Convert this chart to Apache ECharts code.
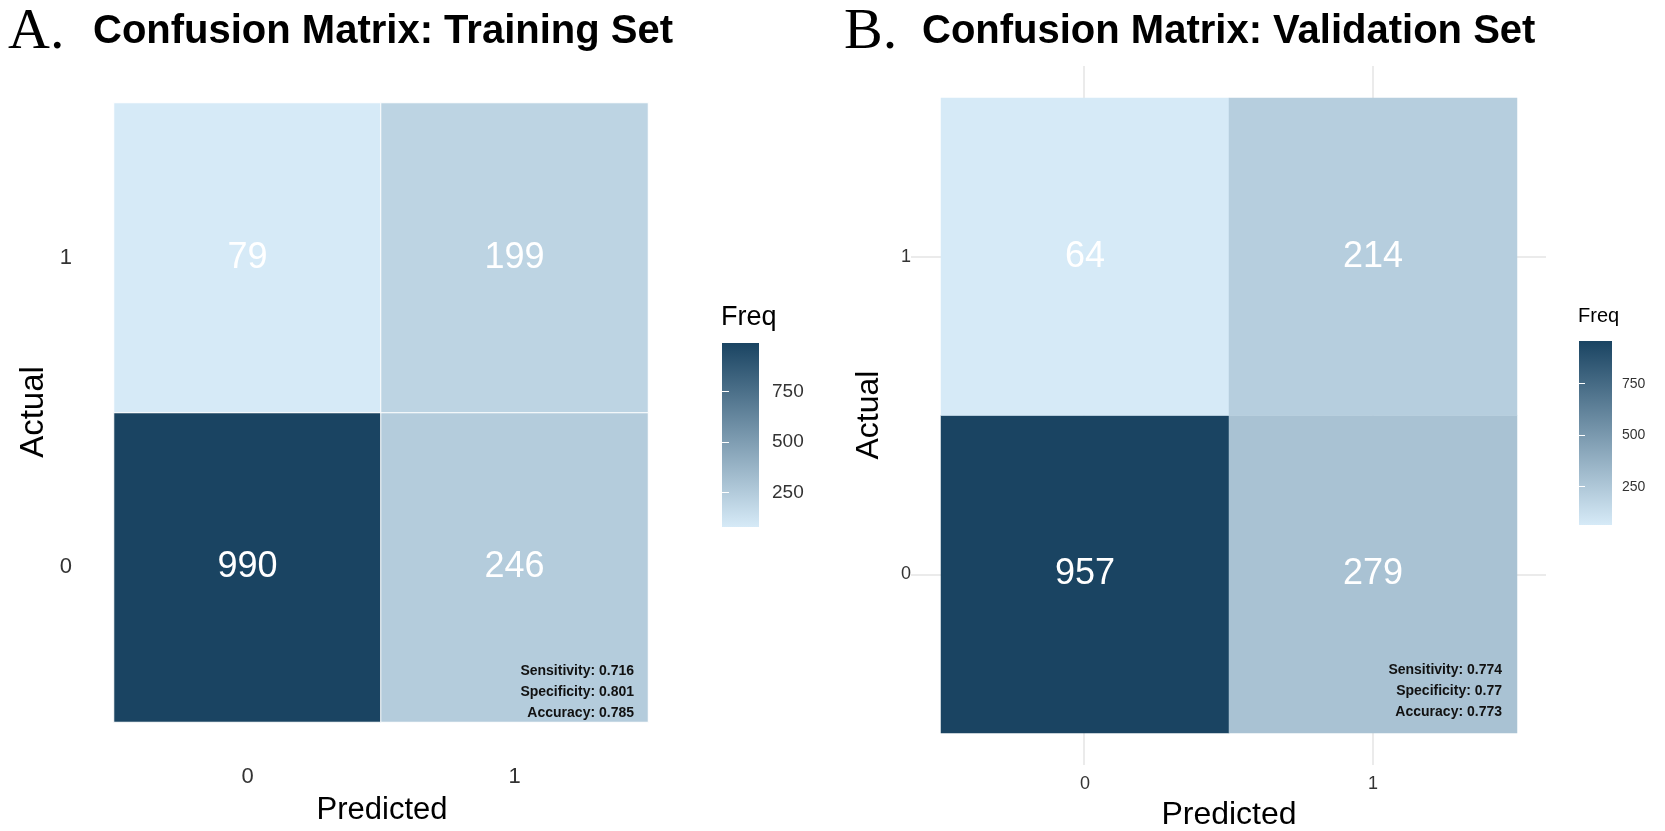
<!DOCTYPE html>
<html>
<head>
<meta charset="utf-8">
<script src="https://cdn.jsdelivr.net/npm/echarts@6/dist/echarts.min.js"></script>
<style>
html,body{margin:0;padding:0;background:#fff;}
#chart{width:1665px;height:831px;}
</style>
</head>
<body>
<div id="chart"></div>
<script>
// ---- data ----
const predictedLabels = ['0', '1'];
const actualLabels = ['0', '1'];
// rows: actual 0, actual 1 ; columns: predicted 0, predicted 1
const trainMatrix = [[990, 246], [79, 199]];
const validMatrix = [[957, 279], [64, 214]];
const trainMetrics = ['Sensitivity: 0.716', 'Specificity: 0.801', 'Accuracy: 0.785'];
const validMetrics = ['Sensitivity: 0.774', 'Specificity: 0.77', 'Accuracy: 0.773'];
const legendTicks = [250, 500, 750];
const titleA = 'Confusion Matrix: Training Set';
const titleB = 'Confusion Matrix: Validation Set';

// ---- helpers ----
const FONT = '"Liberation Sans", Arial, Helvetica, sans-serif';
const LOW = '#d6eaf7';
const HIGH = '#1a4462';

function toCells(m) {
  const out = [];
  for (let r = 0; r < m.length; r++)
    for (let c = 0; c < m[r].length; c++) out.push([c, r, m[r][c]]);
  return out;
}
function flat(m) { return [].concat.apply([], m); }
const trainCells = toCells(trainMatrix);
const validCells = toCells(validMatrix);
const tMin = Math.min.apply(null, flat(trainMatrix)), tMax = Math.max.apply(null, flat(trainMatrix));
const vMin = Math.min.apply(null, flat(validMatrix)), vMax = Math.max.apply(null, flat(validMatrix));

const gradient = {type: 'linear', x: 0, y: 0, x2: 0, y2: 1,
  colorStops: [{offset: 0, color: HIGH}, {offset: 1, color: LOW}]};

function txt(text, x, y, font, opts) {
  opts = opts || {};
  return {type: 'text', x: x, y: y, rotation: opts.rotation || 0, z: 10,
    style: {text: text, font: font, fill: opts.fill || '#000',
      align: opts.align || 'left', verticalAlign: 'middle'}};
}

const graphics = [
  txt('A.', 8, 33, '58px "Liberation Serif", "Times New Roman", serif'),
  txt(titleA, 93, 32, 'bold 40px ' + FONT),
  txt('B.', 844, 33, '58px "Liberation Serif", "Times New Roman", serif'),
  txt(titleB, 922, 32, 'bold 40px ' + FONT),
  txt('Actual', 34, 412, '33px ' + FONT, {rotation: Math.PI / 2, align: 'center'}),
  txt('Predicted', 382, 810, '31px ' + FONT, {align: 'center'}),
  txt('Actual', 869, 415, '32px ' + FONT, {rotation: Math.PI / 2, align: 'center'}),
  txt('Predicted', 1229, 815, '32px ' + FONT, {align: 'center'}),
  txt('Freq', 721, 318, '27px ' + FONT),
  txt('Freq', 1578, 316, '20px ' + FONT)
];
trainMetrics.forEach((s, i) => graphics.push(txt(s, 634, 671 + i * 21, 'bold 14px ' + FONT, {align: 'right', fill: '#111'})));
validMetrics.forEach((s, i) => graphics.push(txt(s, 1502, 670 + i * 21, 'bold 14px ' + FONT, {align: 'right', fill: '#111'})));

const hidden = {show: false};
const option = {
  backgroundColor: '#fff',
  animation: false,
  grid: [
    {left: 114, top: 103, width: 534, height: 619},            // 0 A tiles
    {left: 941, top: 98, width: 576, height: 635},             // 1 B tiles
    {left: 911, top: 66, width: 635, height: 699},             // 2 B panel (grid lines)
    {left: 722, top: 343, width: 37, height: 184, show: true, backgroundColor: gradient, borderWidth: 0}, // 3 A legend
    {left: 1579, top: 341, width: 33, height: 184, show: true, backgroundColor: gradient, borderWidth: 0}  // 4 B legend
  ],
  xAxis: [
    {gridIndex: 0, type: 'category', data: predictedLabels, axisLine: hidden, axisTick: hidden, splitLine: hidden,
      axisLabel: {margin: 44, fontSize: 22, color: '#333', fontFamily: FONT}},
    {gridIndex: 1, type: 'category', data: predictedLabels, axisLine: hidden, axisTick: hidden, splitLine: hidden,
      axisLabel: {margin: 42, fontSize: 18, color: '#333', fontFamily: FONT}},
    {gridIndex: 2, type: 'value', min: 0.4, max: 2.6, axisLine: hidden, axisLabel: hidden,
      axisTick: {show: false, customValues: [1, 2]},
      splitLine: {show: true, lineStyle: {color: '#e4e4e4', width: 1.5}}},
    {gridIndex: 3, type: 'value', show: false},
    {gridIndex: 4, type: 'value', show: false}
  ],
  yAxis: [
    {gridIndex: 0, type: 'category', data: actualLabels, axisLine: hidden, axisTick: hidden, splitLine: hidden,
      axisLabel: {margin: 42, fontSize: 22, color: '#333', fontFamily: FONT}},
    {gridIndex: 1, type: 'category', data: actualLabels, axisLine: hidden, axisTick: hidden, splitLine: hidden,
      axisLabel: {margin: 30, fontSize: 18, color: '#333', fontFamily: FONT}},
    {gridIndex: 2, type: 'value', min: 0.4, max: 2.6, axisLine: hidden, axisLabel: hidden,
      axisTick: {show: false, customValues: [1, 2]},
      splitLine: {show: true, lineStyle: {color: '#e4e4e4', width: 1.5}}},
    // A legend axes
    {gridIndex: 3, type: 'value', min: tMin, max: tMax, position: 'right', splitLine: hidden, axisLine: hidden,
      axisTick: {show: true, inside: true, length: 7, customValues: legendTicks, lineStyle: {color: '#fff', width: 1}},
      axisLabel: {show: true, customValues: legendTicks, margin: 13, fontSize: 19, color: '#333', fontFamily: FONT}},
    {gridIndex: 3, type: 'value', min: tMin, max: tMax, position: 'left', splitLine: hidden, axisLine: hidden,
      axisTick: {show: true, inside: true, length: 7, customValues: legendTicks, lineStyle: {color: '#fff', width: 1}},
      axisLabel: {show: false}},
    // B legend axes
    {gridIndex: 4, type: 'value', min: vMin, max: vMax, position: 'right', splitLine: hidden, axisLine: hidden,
      axisTick: {show: true, inside: true, length: 6, customValues: legendTicks, lineStyle: {color: '#fff', width: 1}},
      axisLabel: {show: true, customValues: legendTicks, margin: 10, fontSize: 14, color: '#333', fontFamily: FONT}},
    {gridIndex: 4, type: 'value', min: vMin, max: vMax, position: 'left', splitLine: hidden, axisLine: hidden,
      axisTick: {show: true, inside: true, length: 6, customValues: legendTicks, lineStyle: {color: '#fff', width: 1}},
      axisLabel: {show: false}}
  ],
  visualMap: [
    {type: 'continuous', show: false, seriesIndex: 0, min: tMin, max: tMax, inRange: {color: [LOW, HIGH]}},
    {type: 'continuous', show: false, seriesIndex: 1, min: vMin, max: vMax, inRange: {color: [LOW, HIGH]}}
  ],
  series: [
    {type: 'heatmap', xAxisIndex: 0, yAxisIndex: 0, data: trainCells,
      itemStyle: {borderColor: '#fff', borderWidth: 1},
      label: {show: true, formatter: p => p.value[2], color: '#fff', fontSize: 36, fontFamily: FONT},
      emphasis: {disabled: true}},
    {type: 'heatmap', xAxisIndex: 1, yAxisIndex: 1, data: validCells,
      label: {show: true, formatter: p => p.value[2], color: '#fff', fontSize: 36, fontFamily: FONT},
      emphasis: {disabled: true}}
  ],
  graphic: graphics
};

const chart = echarts.init(document.getElementById('chart'));
chart.setOption(option);
</script>
</body>
</html>
